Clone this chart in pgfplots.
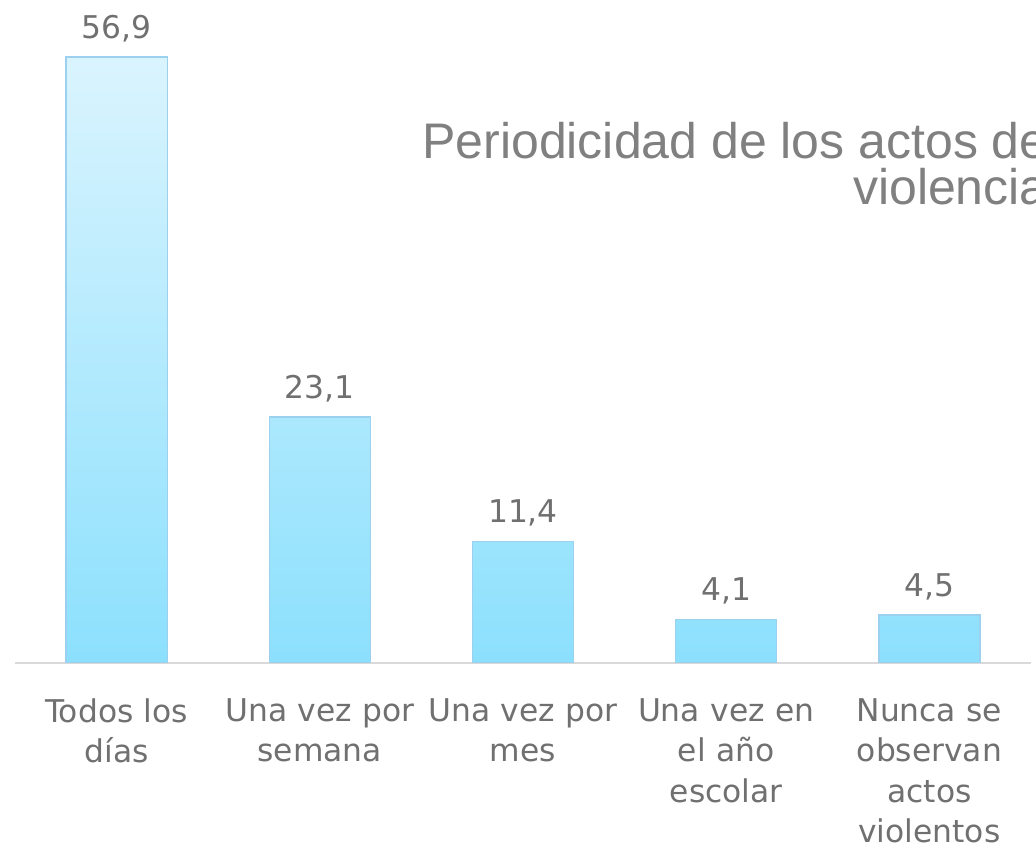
\documentclass[border=0pt]{standalone}
\usepackage{pgfplots}
\pgfplotsset{compat=1.18}
\usepackage{fontspec}
\setmainfont{Liberation Sans}
\newfontfamily\labelfont{DejaVu Sans}
\definecolor{txtgray}{RGB}{112,112,112}
\definecolor{titlegray}{RGB}{128,128,128}
\definecolor{bartop}{RGB}{218,244,254}
\definecolor{barbot}{RGB}{140,224,253}
\definecolor{baredge}{RGB}{155,208,238}
\definecolor{axgray}{RGB}{217,217,217}

\begin{document}
\begin{tikzpicture}
% picture frame: 1036 x 852 px, 1 px = 0.75pt, origin at the axis' lower left corner
\useasboundingbox (-11.25pt,-141.75pt) rectangle (765.75pt,497.25pt);
\clip (-11.25pt,-141.75pt) rectangle (765.75pt,497.25pt);
\begin{axis}[
    at={(0pt,0pt)}, anchor=south west,
    scale only axis,
    width=762pt, height=497.25pt,
    xmin=-0.5, xmax=4.5,
    ymin=0, ymax=62.25,
    ybar, bar width=75.75pt,
    axis x line*=bottom,
    hide y axis,
    x axis line style={-, draw=axgray, line width=1pt},
    xtick=data,
    major tick length=0pt,
    xticklabels={{Todos los\\días},{Una vez por\\semana},{Una vez por\\mes},{Una vez en\\el año\\escolar},{Nunca se\\observan\\actos\\violentos}},
    xticklabel style={text width=155pt, align=center, text=txtgray,
        font=\labelfont\fontsize{23.5}{30.4}\selectfont, yshift=-23pt},
    nodes near coords={\pgfmathprintnumber[use comma,fixed,fixed zerofill,precision=1,assume math mode=true]{\pgfplotspointmeta}},
    every node near coord/.append style={anchor=base, yshift=14pt, text=txtgray,
        font=\labelfont\fontsize{23.5}{28}\selectfont},
]
\addplot[draw=baredge, line width=0.9pt, top color=bartop, bottom color=barbot]
    coordinates {(0,56.9) (1,23.1) (2,11.4) (3,4.1) (4,4.5)};
\end{axis}
\node[anchor=base east, text=titlegray, font=\fontsize{37.5}{44}\selectfont, inner sep=0pt]
    at (774.75pt,378pt) {Periodicidad de los actos de};
\node[anchor=base east, text=titlegray, font=\fontsize{37.5}{44}\selectfont, inner sep=0pt]
    at (774.75pt,343.5pt) {violencia};
\end{tikzpicture}
\end{document}
